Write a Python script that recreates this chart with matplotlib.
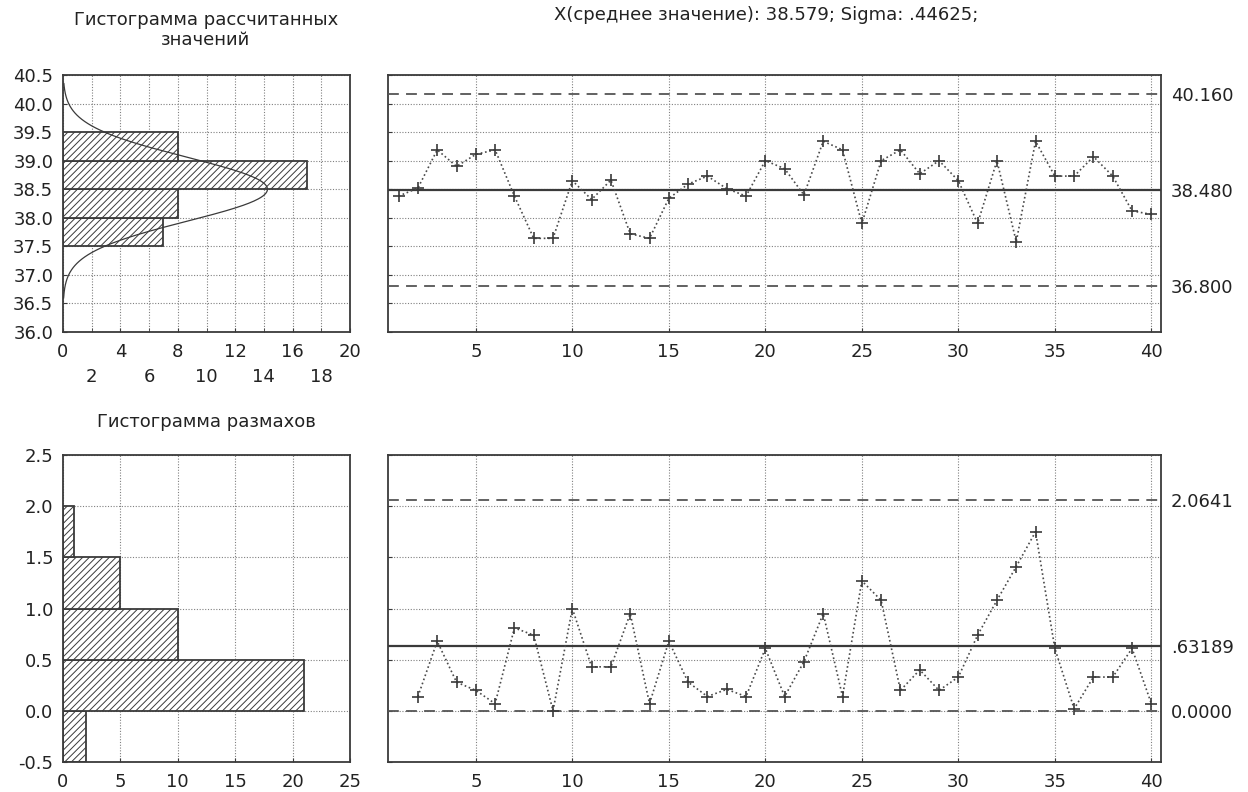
import numpy as np
import matplotlib
matplotlib.use("Agg")
import matplotlib.pyplot as plt

plt.rcParams['font.family'] = ['DejaVu Sans']
plt.rcParams['hatch.linewidth'] = 0.7
plt.rcParams['hatch.color'] = '#4a4a4a'

# ---------------- data ----------------
samples = list(range(1, 41))
xbar_values = [38.38, 38.52, 39.19, 38.90, 39.11, 39.19, 38.38, 37.64, 37.64, 38.65,
               38.32, 38.66, 37.72, 37.64, 38.34, 38.59, 38.73, 38.51, 38.38, 39.00,
               38.86, 38.40, 39.34, 39.19, 37.90, 39.00, 39.19, 38.77, 39.00, 38.65,
               37.90, 39.00, 37.58, 39.34, 38.73, 38.73, 39.07, 38.73, 38.12, 38.06]
range_samples = list(range(2, 41))
range_values = [0.14, 0.68, 0.28, 0.20, 0.07, 0.81, 0.74, 0.00, 1.00, 0.43,
                0.43, 0.95, 0.07, 0.68, 0.28, 0.14, 0.21, 0.14, 0.61, 0.14,
                0.48, 0.95, 0.14, 1.27, 1.08, 0.20, 0.40, 0.20, 0.33, 0.74,
                1.08, 1.41, 1.75, 0.61, 0.02, 0.33, 0.33, 0.61, 0.07]

xbar_hist_edges = [37.5, 38.0, 38.5, 39.0]
xbar_hist_counts = [7, 8, 17, 8]
range_hist_edges = [-0.5, 0.0, 0.5, 1.0, 1.5]
range_hist_counts = [2, 21, 10, 5, 1]
hist_bin_width = 0.5

xbar_limits = [40.160, 38.480, 36.800]
xbar_limit_labels = ['40.160', '38.480', '36.800']
range_limits = [2.0641, 0.63189, 0.0]
range_limit_labels = ['2.0641', '.63189', '0.0000']

normal_mean = 38.5
normal_sigma = 0.56
normal_n = 40

title_hist1 = 'Гистограмма рассчитанных\nзначений'
title_hist2 = 'Гистограмма размахов'
title_chart = 'X(среднее значение): 38.579; Sigma: .44625;'

# ---------------- style ----------------
DARK = '#3a3a3a'
GRID = '#808080'
TXT = '#222222'
FS = 13
TFS = 13

fig = plt.figure(figsize=(12.48, 7.92), dpi=100)
W, H = 1248, 792

def add_ax(l, t, r, b):
    return fig.add_axes([l / W, 1 - b / H, (r - l) / W, (b - t) / H])

ax_h1 = add_ax(63, 75, 350, 332)
ax_c1 = add_ax(388, 75, 1161, 332)
ax_h2 = add_ax(63, 455, 350, 762)
ax_c2 = add_ax(388, 455, 1161, 762)

def style(ax):
    for s in ax.spines.values():
        s.set_color(DARK)
        s.set_linewidth(1.3)
    ax.grid(True, which='both', linestyle=(0, (1, 1.5)), linewidth=0.8, color=GRID)
    ax.set_axisbelow(True)
    ax.tick_params(which='both', direction='in', length=3, color=DARK,
                   labelsize=FS, labelcolor=TXT, top=False, right=False)

def control_chart(ax, xs, vals, limits, labels, ylim, yticks):
    style(ax)
    ax.plot(xs, vals, linestyle=(0, (1, 1.6)), color='#4a4a4a', linewidth=1.2,
            marker='+', markersize=9, markeredgewidth=1.2, markeredgecolor='#3a3a3a', zorder=4)
    ax.axhline(limits[0], color='#555555', linestyle=(0, (6, 4)), linewidth=1.3, zorder=3)
    ax.axhline(limits[1], color=DARK, linestyle='-', linewidth=1.6, zorder=3)
    ax.axhline(limits[2], color='#555555', linestyle=(0, (6, 4)), linewidth=1.3, zorder=3)
    ax.set_xlim(0.45, 40.5)
    ax.set_ylim(*ylim)
    ax.set_xticks([5, 10, 15, 20, 25, 30, 35, 40])
    ax.set_yticks(yticks)
    ax.tick_params(axis='y', labelleft=False)
    ax.tick_params(axis='x', pad=8)
    tw = ax.twinx()
    tw.set_ylim(*ylim)
    tw.set_yticks(limits)
    tw.set_yticklabels(labels)
    tw.tick_params(axis='y', length=0, pad=7, labelsize=FS, labelcolor=TXT)
    for s in tw.spines.values():
        s.set_visible(False)

# ---- histogram of X ----
style(ax_h1)
ax_h1.barh(xbar_hist_edges, xbar_hist_counts, height=hist_bin_width, align='edge',
           facecolor='white', edgecolor=DARK, linewidth=1.3, hatch='/////', zorder=2)
ys = np.linspace(36.6, 40.35, 300)
curve = normal_n * hist_bin_width / (normal_sigma * np.sqrt(2 * np.pi)) * \
    np.exp(-0.5 * ((ys - normal_mean) / normal_sigma) ** 2)
ax_h1.plot(curve, ys, color=DARK, linewidth=0.9, zorder=3)
ax_h1.set_xlim(0, 20)
ax_h1.set_ylim(36.0, 40.5)
yt1 = np.arange(36.0, 40.51, 0.5)
ax_h1.set_yticks(yt1)
ax_h1.set_yticklabels([f'{v:.1f}' for v in yt1])
ax_h1.set_xticks([0, 4, 8, 12, 16, 20])
ax_h1.set_xticklabels(['0', '4', '8', '12', '16', '20'])
ax_h1.set_xticks([2, 6, 10, 14, 18], minor=True)
ax_h1.set_xticklabels(['2', '6', '10', '14', '18'], minor=True)
ax_h1.tick_params(axis='x', which='major', pad=8)
ax_h1.tick_params(axis='x', which='minor', pad=26)
ax_h1.tick_params(axis='y', pad=7)

# ---- X chart ----
control_chart(ax_c1, samples, xbar_values, xbar_limits, xbar_limit_labels,
              (36.0, 40.5), yt1)

# ---- histogram of ranges ----
style(ax_h2)
ax_h2.barh(range_hist_edges, range_hist_counts, height=hist_bin_width, align='edge',
           facecolor='white', edgecolor=DARK, linewidth=1.3, hatch='/////', zorder=2)
ax_h2.set_xlim(0, 25)
ax_h2.set_ylim(-0.5, 2.5)
ax_h2.set_xticks([0, 5, 10, 15, 20, 25])
yt2 = np.arange(-0.5, 2.51, 0.5)
ax_h2.set_yticks(yt2)
ax_h2.set_yticklabels([f'{v:.1f}' for v in yt2])
ax_h2.tick_params(axis='x', pad=8)
ax_h2.tick_params(axis='y', pad=7)

# ---- range chart ----
control_chart(ax_c2, range_samples, range_values, range_limits, range_limit_labels,
              (-0.5, 2.5), yt2)

# ---- titles ----
fig.text(206 / W, 1 - 30 / H, title_hist1, ha='center', va='center',
         fontsize=TFS, color=TXT, linespacing=1.2)
fig.text(766 / W, 1 - 15 / H, title_chart, ha='center', va='center',
         fontsize=TFS, color=TXT)
fig.text(206 / W, 1 - 422 / H, title_hist2, ha='center', va='center',
         fontsize=TFS, color=TXT)

fig.savefig('out.png', dpi=100, facecolor='white')
